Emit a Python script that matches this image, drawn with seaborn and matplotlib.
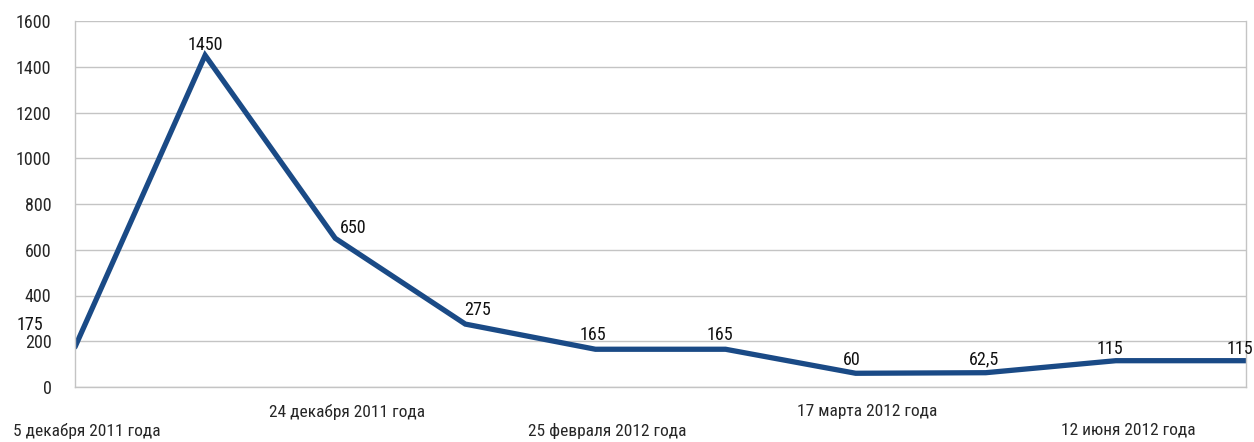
import matplotlib
matplotlib.use('Agg')
import matplotlib.pyplot as plt
import matplotlib.transforms as mtransforms
from matplotlib import font_manager
import seaborn as sns
import pandas as pd

# data
dates = ['5 декабря 2011 года', '', '24 декабря 2011 года', '', '25 февраля 2012 года',
         '', '17 марта 2012 года', '', '12 июня 2012 года', '']
values = [175, 1450, 650, 275, 165, 165, 60, 62.5, 115, 115]
value_labels = ['175', '1450', '650', '275', '165', '165', '60', '62,5', '115', '115']

# label offsets in pixels (style, not data)
label_offsets = [(-45, 22), (0, 10), (18, 10), (12, 14), (-3, 14),
                 (-6, 14), (-4, 13), (-2, 13), (-6, 12), (-6, 12)]

sns.set_style('white')
installed = {f.name for f in font_manager.fontManager.ttflist}
family = [f for f in ['Liberation Sans Narrow', 'DejaVu Sans Condensed', 'Roboto Condensed']
          if f in installed] + ['DejaVu Sans']
plt.rcParams['font.family'] = family

df = pd.DataFrame({'pos': range(len(values)), 'value': values})

fig = plt.figure(figsize=(12.54, 4.42), dpi=100)
ax = fig.add_axes([75 / 1254, 1 - 387 / 442, (1246 - 75) / 1254, (387 - 21) / 442])

sns.lineplot(data=df, x='pos', y='value', ax=ax, color='#1a4a86', linewidth=3.8,
             solid_joinstyle='miter')

ax.set_xlim(0, len(values) - 1)
ax.set_ylim(0, 1600)
ax.set_yticks(range(0, 1601, 200))
ax.yaxis.grid(True, color='#c4c4c4', linewidth=1)
ax.set_axisbelow(True)
ax.set_xlabel('')
ax.set_ylabel('')

ax.set_xticks(range(len(values)))
lbls = [('\n' + d) if i % 4 == 0 else d for i, d in enumerate(dates)]
ax.set_xticklabels(lbls, fontsize=12.5, linespacing=1.32, va='top')
ax.tick_params(axis='x', length=10, width=1, color='#c4c4c4', pad=2)
ax.tick_params(axis='y', length=14, width=1, color='#c4c4c4', pad=3, labelsize=13)
shift = mtransforms.ScaledTranslation(12 / 100, 0, fig.dpi_scale_trans)
for t in ax.get_xticklabels():
    t.set_transform(t.get_transform() + shift)

ax.spines['top'].set_visible(False)
for s in ['left', 'bottom', 'right']:
    ax.spines[s].set_color('#c4c4c4')
    ax.spines[s].set_linewidth(1)

for i, (v, txt) in enumerate(zip(values, value_labels)):
    dx, dy = label_offsets[i]
    ax.annotate(txt, (i, v), xytext=(dx, dy), textcoords='offset pixels',
                ha='center', va='center', fontsize=13, color='#111111')

fig.savefig('out.png', dpi=100)
